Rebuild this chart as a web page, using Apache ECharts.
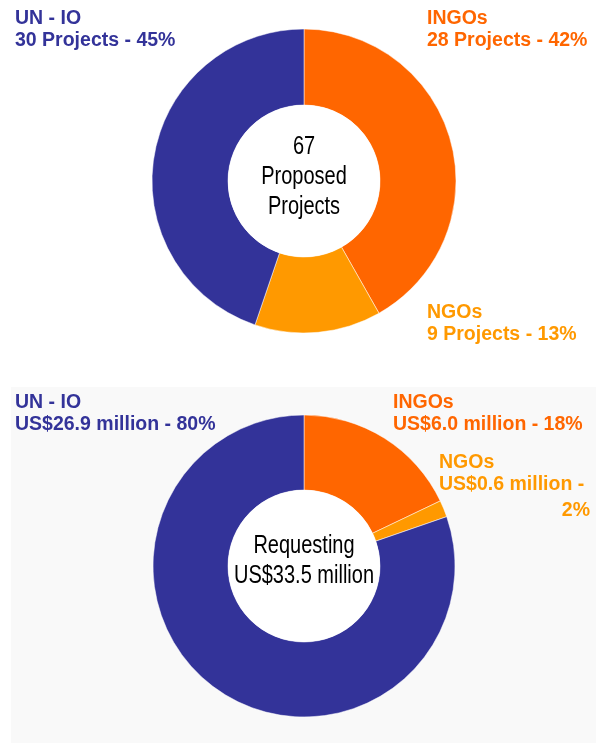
<!DOCTYPE html>
<html>
<head>
<meta charset="utf-8">
<script src="https://cdn.jsdelivr.net/npm/echarts@6/dist/echarts.min.js"></script>
<style>
	html, body { margin: 0; padding: 0; background: #fff; }
	#main { width: 605px; height: 743px; }
</style>
</head>
<body>
<div id="main"></div>
<script>
// 数据
var categories = ['INGOs', 'NGOs', 'UN - IO'];
var colors = ['#FF6600', '#FF9900', '#333399'];
var projects = [28, 9, 30];
var funding = [6.0, 0.6, 26.9];

var labelFont = 'Liberation Sans';

function sum(arr) {
	var s = 0;
	for (var i = 0; i < arr.length; i++) s += arr[i];
	return s;
}
function pct(v, arr) {
	return Math.round(v / sum(arr) * 100) + '%';
}
function pieData(values) {
	var d = [];
	for (var i = 0; i < values.length; i++) {
		d.push({ name: categories[i], value: values[i], itemStyle: { color: colors[i] } });
	}
	return d;
}
function ringSeries(values, cy, r) {
	return {
		type: 'pie',
		center: [304, cy],
		radius: [76, r],
		startAngle: 90,
		clockwise: true,
		silent: true,
		label: { show: false },
		labelLine: { show: false },
		itemStyle: { borderColor: '#fff', borderWidth: 0.5 },
		data: pieData(values)
	};
}
function holeSeries(cy) {
	return {
		type: 'pie',
		center: [304, cy],
		radius: [0, 76],
		silent: true,
		label: { show: false },
		data: [{ value: 1, itemStyle: { color: '#fff' } }]
	};
}
function txt(x, y, text, color, align) {
	return {
		type: 'text', x: x, y: y, z: 10,
		style: {
			text: text, fill: color, fontFamily: labelFont, fontSize: 19.5, fontWeight: 'bold',
			lineHeight: 22, align: align || 'left', verticalAlign: 'top'
		}
	};
}
// 中间的文字用压缩的 Liberation Sans 模拟 Arial Narrow
function centerTxt(y, text) {
	return {
		type: 'text', x: 304, y: y, z: 10, scaleX: 0.8,
		style: {
			text: text, fill: '#000', fontFamily: labelFont, fontSize: 25,
			lineHeight: 30, align: 'center', verticalAlign: 'middle'
		}
	};
}

var myChart = echarts.init(document.getElementById('main'));
myChart.setOption({
	animation: false,
	backgroundColor: '#fff',
	graphic: [
		// 下半部分灰色背景
		{ type: 'rect', z: -10, shape: { x: 11, y: 387, width: 585, height: 356 }, style: { fill: '#f9f9f9' } },
		txt(15, 8, categories[2] + '\n' + projects[2] + ' Projects - ' + pct(projects[2], projects), colors[2]),
		txt(427, 8, categories[0] + '\n' + projects[0] + ' Projects - ' + pct(projects[0], projects), colors[0]),
		txt(427, 302, categories[1] + '\n' + projects[1] + ' Projects - ' + pct(projects[1], projects), colors[1]),
		centerTxt(177, sum(projects) + '\nProposed\nProjects'),
		txt(15, 392, categories[2] + '\nUS$' + funding[2].toFixed(1) + ' million - ' + pct(funding[2], funding), colors[2]),
		txt(393, 392, categories[0] + '\nUS$' + funding[0].toFixed(1) + ' million - ' + pct(funding[0], funding), colors[0]),
		txt(439, 452, categories[1] + '\nUS$' + funding[1].toFixed(1) + ' million -', colors[1]),
		txt(590, 500, pct(funding[1], funding), colors[1], 'right'),
		centerTxt(561, 'Requesting\nUS$' + sum(funding).toFixed(1) + ' million')
	],
	series: [
		ringSeries(projects, 181, 152),
		holeSeries(181),
		ringSeries(funding, 566, 151),
		holeSeries(566)
	]
});
</script>
</body>
</html>
